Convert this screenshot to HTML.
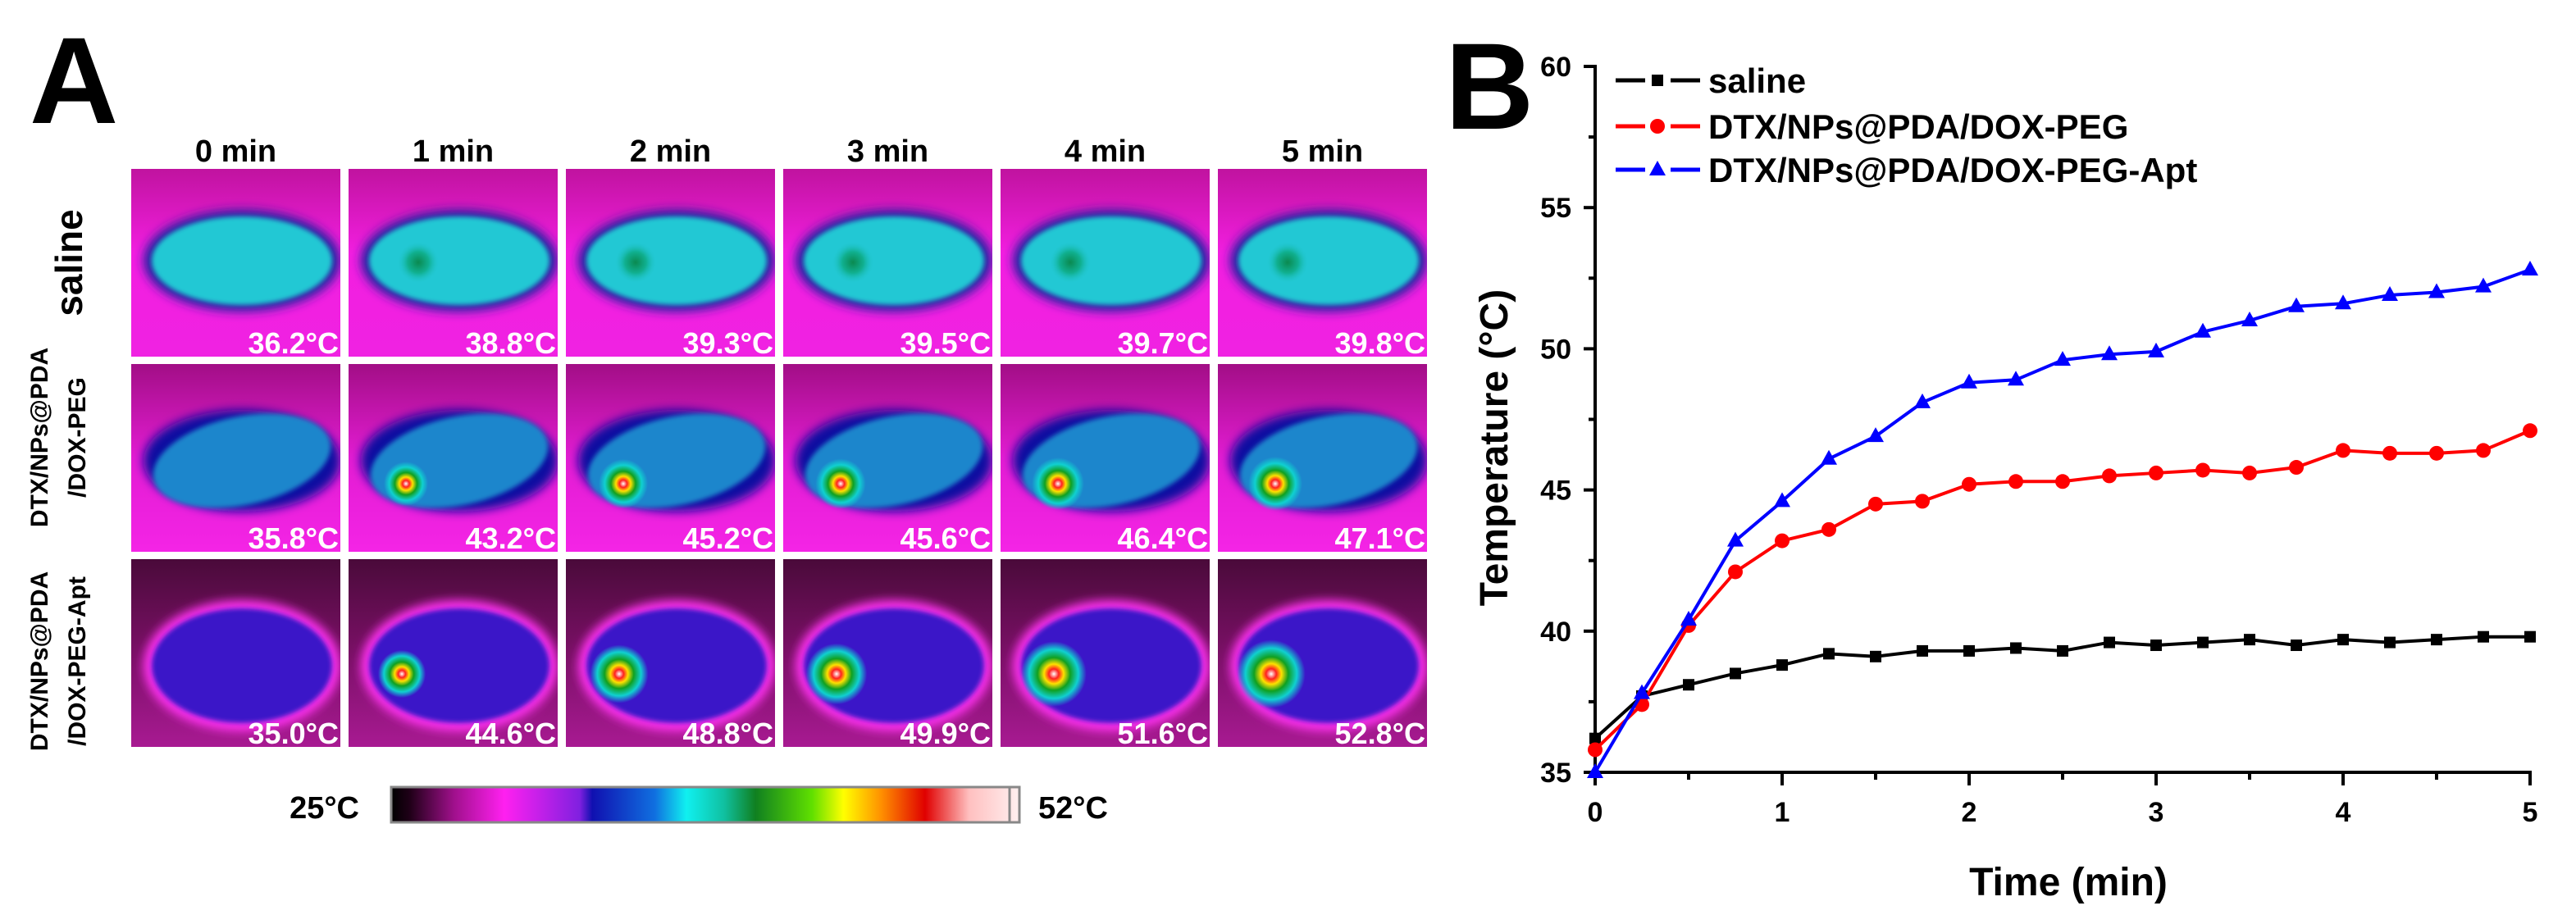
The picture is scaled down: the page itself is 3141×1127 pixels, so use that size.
<!DOCTYPE html>
<html><head><meta charset="utf-8">
<style>
html,body{margin:0;padding:0;background:#fff;}
body{width:3141px;height:1122px;overflow:hidden;position:relative;font-family:"Liberation Sans",Arial,sans-serif;}
svg text{font-family:"Liberation Sans",Arial,sans-serif;font-weight:bold;}
</style></head>
<body>
<svg id="root" width="3141" height="1122" viewBox="0 0 3141 1122" xmlns="http://www.w3.org/2000/svg">
<defs>
  <filter id="blur6" x="-20%" y="-20%" width="140%" height="140%"><feGaussianBlur stdDeviation="6"/></filter>
  <filter id="blur3"><feGaussianBlur stdDeviation="3"/></filter>
  <linearGradient id="bg1" x1="0" y1="0" x2="0" y2="1"><stop offset="0" stop-color="#c0139f"/><stop offset="0.45" stop-color="#f21ee0"/><stop offset="1" stop-color="#f022e2"/></linearGradient>
  <linearGradient id="bg2" x1="0" y1="0" x2="0" y2="1"><stop offset="0" stop-color="#a20e86"/><stop offset="0.5" stop-color="#e21cd2"/><stop offset="1" stop-color="#f424e6"/></linearGradient>
  <linearGradient id="bg3" x1="0" y1="0" x2="0" y2="1"><stop offset="0" stop-color="#4a0a3a"/><stop offset="0.5" stop-color="#7a1066"/><stop offset="1" stop-color="#a81a92"/></linearGradient>
  <radialGradient id="hot" cx="0.5" cy="0.5" r="0.5">
    <stop offset="0" stop-color="#ffffff"/><stop offset="0.15" stop-color="#ff2020"/><stop offset="0.3" stop-color="#ffe000"/><stop offset="0.5" stop-color="#10a020"/><stop offset="0.75" stop-color="#10d0d0"/><stop offset="1" stop-color="#10d0d0" stop-opacity="0"/>
  </radialGradient>
  <radialGradient id="warm" cx="0.5" cy="0.5" r="0.5">
    <stop offset="0" stop-color="#0a8a50"/><stop offset="0.5" stop-color="#10b090"/><stop offset="1" stop-color="#22c8d4" stop-opacity="0"/>
  </radialGradient>
  <linearGradient id="cbar" x1="0" y1="0" x2="1" y2="0">
    <stop offset="0" stop-color="#000"/><stop offset="0.03" stop-color="#200018"/><stop offset="0.1" stop-color="#a0108c"/><stop offset="0.18" stop-color="#ff20f0"/><stop offset="0.3" stop-color="#8020e0"/><stop offset="0.32" stop-color="#1010b0"/><stop offset="0.42" stop-color="#1070e0"/><stop offset="0.47" stop-color="#10f0f0"/><stop offset="0.53" stop-color="#10c0a0"/><stop offset="0.58" stop-color="#108020"/><stop offset="0.67" stop-color="#60e000"/><stop offset="0.72" stop-color="#ffff00"/><stop offset="0.78" stop-color="#ff9000"/><stop offset="0.85" stop-color="#e00000"/><stop offset="0.92" stop-color="#ffc0c0"/><stop offset="1" stop-color="#fff0f0"/>
  </linearGradient>
</defs>

<text x="36" y="150" font-size="150">A</text>
<g id="panelA"></g>

<text x="438" y="998" font-size="38" text-anchor="end">25°C</text>
<rect x="477" y="960" width="766" height="43" fill="url(#cbar)" stroke="#888" stroke-width="3"/>
<line x1="1231" y1="960" x2="1231" y2="1003" stroke="#888" stroke-width="3"/>
<text x="1266" y="998" font-size="38">52°C</text>

<text x="1762" y="157" font-size="150">B</text>
<g id="chart"></g>
</svg>
<script>
// ---------- Panel A data ----------
const times = ["0 min","1 min","2 min","3 min","4 min","5 min"];
const salineTemps = [36.2,38.8,39.3,39.5,39.7,39.8];
const pegTemps = [35.8,43.2,45.2,45.6,46.4,47.1];
const aptTemps = [35.0,44.6,48.8,49.9,51.6,52.8];

// ---------- Panel B data ----------
const timePoints = [0,0.25,0.5,0.75,1,1.25,1.5,1.75,2,2.25,2.5,2.75,3,3.25,3.5,3.75,4,4.25,4.5,4.75,5];
const salineSeries = [36.2,37.7,38.1,38.5,38.8,39.2,39.1,39.3,39.3,39.4,39.3,39.6,39.5,39.6,39.7,39.5,39.7,39.6,39.7,39.8,39.8];
const pegSeries = [35.8,37.4,40.2,42.1,43.2,43.6,44.5,44.6,45.2,45.3,45.3,45.5,45.6,45.7,45.6,45.8,46.4,46.3,46.3,46.4,47.1];
const aptSeries = [35.0,37.8,40.4,43.2,44.6,46.1,46.9,48.1,48.8,48.9,49.6,49.8,49.9,50.6,51.0,51.5,51.6,51.9,52.0,52.2,52.8];
const xTicks = [0,1,2,3,4,5];
const yTicks = [35,40,45,50,55,60];
const legendLabels = ["saline","DTX/NPs@PDA/DOX-PEG","DTX/NPs@PDA/DOX-PEG-Apt"];

const NS="http://www.w3.org/2000/svg";
function mk(tag, attrs, parent){const e=document.createElementNS(NS,tag);for(const k in attrs)e.setAttribute(k,attrs[k]);if(parent)parent.appendChild(e);return e;}

// ---------- Panel A ----------
const A=document.getElementById('panelA');
const cellX0=160, cellW=255, pitchX=265, cellY0=206, cellH=229, pitchY=238;
const rows=[salineTemps,pegTemps,aptTemps];
const bgs=['url(#bg1)','url(#bg2)','url(#bg3)'];
const bodyFill=['#22c8d4','#1f86cc','#3a18c8'];
const edgeCol=['#2020a0','#1010a0','#ff30f0'];
times.forEach((t,c)=>{
  const tx=mk('text',{x:cellX0+c*pitchX+cellW/2,y:197,'font-size':38,'text-anchor':'middle'},A);
  
  
  tx.textContent=t;
});
rows.forEach((temps,r)=>{
  temps.forEach((v,c)=>{
    const x=cellX0+c*pitchX, y=cellY0+r*pitchY;
    const g=mk('g',{},A);
    
    
    const cp=mk('clipPath',{id:'cp'+r+c},g); mk('rect',{x:x,y:y,width:cellW,height:cellH},cp);
    const inner=mk('g',{'clip-path':'url(#cp'+r+c+')'},g);
    mk('rect',{x:x,y:y,width:cellW,height:cellH,fill:bgs[r]},inner);
    const by = r===0? y+112 : (r===1? y+118 : y+130);
    mk('ellipse',{cx:x+135,cy:by,rx:120,ry:r===2?80:62,fill:edgeCol[r],filter:'url(#blur6)'},inner);
    mk('ellipse',{cx:x+135,cy:by,rx:110,ry:r===2?70:54,fill:bodyFill[r],filter:'url(#blur3)',transform:r===1?'rotate(-12 '+(x+135)+' '+by+')':''},inner);
    if(r===0){
      if(v>37) mk('circle',{cx:x+85,cy:by+2,r:26,fill:'url(#warm)'},inner);
    } else {
      const heat=Math.max(0,(v-36)/17);
      if(heat>0){
        const rad=16+heat*26;
        mk('circle',{cx:x+(r===2?65:70),cy:by+(r===1?28:(r===2?10:0)),r:rad,fill:'url(#hot)'},inner);
      }
    }
    const lab=mk('text',{x:x+cellW-2,y:y+cellH-4,'font-size':36,'text-anchor':'end',fill:'#fff'},g);
    
    
    lab.textContent=v.toFixed(1)+'°C';
  });
});
function rowLabel(lines,cy,fs,xs,name){
  lines.forEach((s,i)=>{
    const t=mk('text',{x:0,y:0,'font-size':fs,'text-anchor':'middle',transform:'translate('+xs[i]+','+cy+') rotate(-90)'},A);
    
    
    t.textContent=s;
  });
}
rowLabel(['saline'],cellY0+cellH/2,46,[100],'row-label-saline');
rowLabel(['DTX/NPs@PDA','/DOX-PEG'],cellY0+pitchY+cellH/2-25,30,[58,104],'row-label-peg');
rowLabel(['DTX/NPs@PDA','/DOX-PEG-Apt'],cellY0+2*pitchY+cellH/2+10,30,[58,104],'row-label-apt');

// ---------- Panel B ----------
const C=document.getElementById('chart');
const X0=1945, X1=3085, Y0=942, Y1=81;
const xs=v=>X0+(v-0)/5*(X1-X0);
const ys=v=>Y0-(v-35)/25*(Y0-Y1);
mk('path',{d:`M${X0-14},${Y1} H${X0} V${Y0} H${X1} V${Y0+16}`,fill:'none',stroke:'#000','stroke-width':4},C);
for(let i=0;i<=10;i++){const v=i*0.5;const len=i%2===0?16:9;mk('line',{x1:xs(v),y1:Y0,x2:xs(v),y2:Y0+len,stroke:'#000','stroke-width':4},C);}
for(let i=0;i<=10;i++){const v=35+i*2.5;const len=i%2===0?14:8;mk('line',{x1:X0,y1:ys(v),x2:X0-len,y2:ys(v),stroke:'#000','stroke-width':4},C);}
xTicks.forEach(v=>{const t=mk('text',{x:xs(v),y:1002,'font-size':34,'text-anchor':'middle'},C);
  
  
  t.textContent=v;});
yTicks.forEach(v=>{const t=mk('text',{x:1916,y:ys(v)+12,'font-size':34,'text-anchor':'end'},C);
  
  
  t.textContent=v;});
const xt=mk('text',{x:2522,y:1092,'font-size':48,'text-anchor':'middle'},C);


xt.textContent='Time (min)';
const yt=mk('text',{x:0,y:0,'font-size':48,'text-anchor':'middle',transform:'translate(1838,546) rotate(-90)'},C);


yt.textContent='Temperature (°C)';

function marker(g,type,cx,cy,col,s){
  if(type==='sq') return mk('rect',{x:cx-s,y:cy-s,width:2*s,height:2*s,fill:col},g);
  if(type==='ci') return mk('circle',{cx:cx,cy:cy,r:s+2,fill:col},g);
  return mk('polygon',{points:`${cx},${cy-s-4} ${cx+s+3},${cy+s} ${cx-s-3},${cy+s}`,fill:col},g);
}
const series=[[salineSeries,'#000','sq','saline'],[pegSeries,'#ff0000','ci','peg'],[aptSeries,'#0000ff','tr','apt']];
series.forEach(([vals,col,type,nm])=>{
  const g=mk('g',{},C);
  
  
  const d=vals.map((v,i)=>(i?'L':'M')+xs(timePoints[i])+','+ys(v)).join(' ');
  mk('path',{d:d,fill:'none',stroke:col,'stroke-width':4},g);
  vals.forEach((v,i)=>{const m=marker(g,type,xs(timePoints[i]),ys(v),col,7);
    
    });
});
const legY=[98,154,207];
series.forEach(([vals,col,type,nm],i)=>{
  const g=mk('g',{},C);
  
  
  mk('line',{x1:1970,y1:legY[i],x2:2006,y2:legY[i],stroke:col,'stroke-width':5},g);
  mk('line',{x1:2037,y1:legY[i],x2:2073,y2:legY[i],stroke:col,'stroke-width':5},g);
  marker(g,type,2021,legY[i],col,7);
  const t=mk('text',{x:2083,y:legY[i]+15,'font-size':42},g);
  t.textContent=legendLabels[i];
});
</script>
</body></html>
